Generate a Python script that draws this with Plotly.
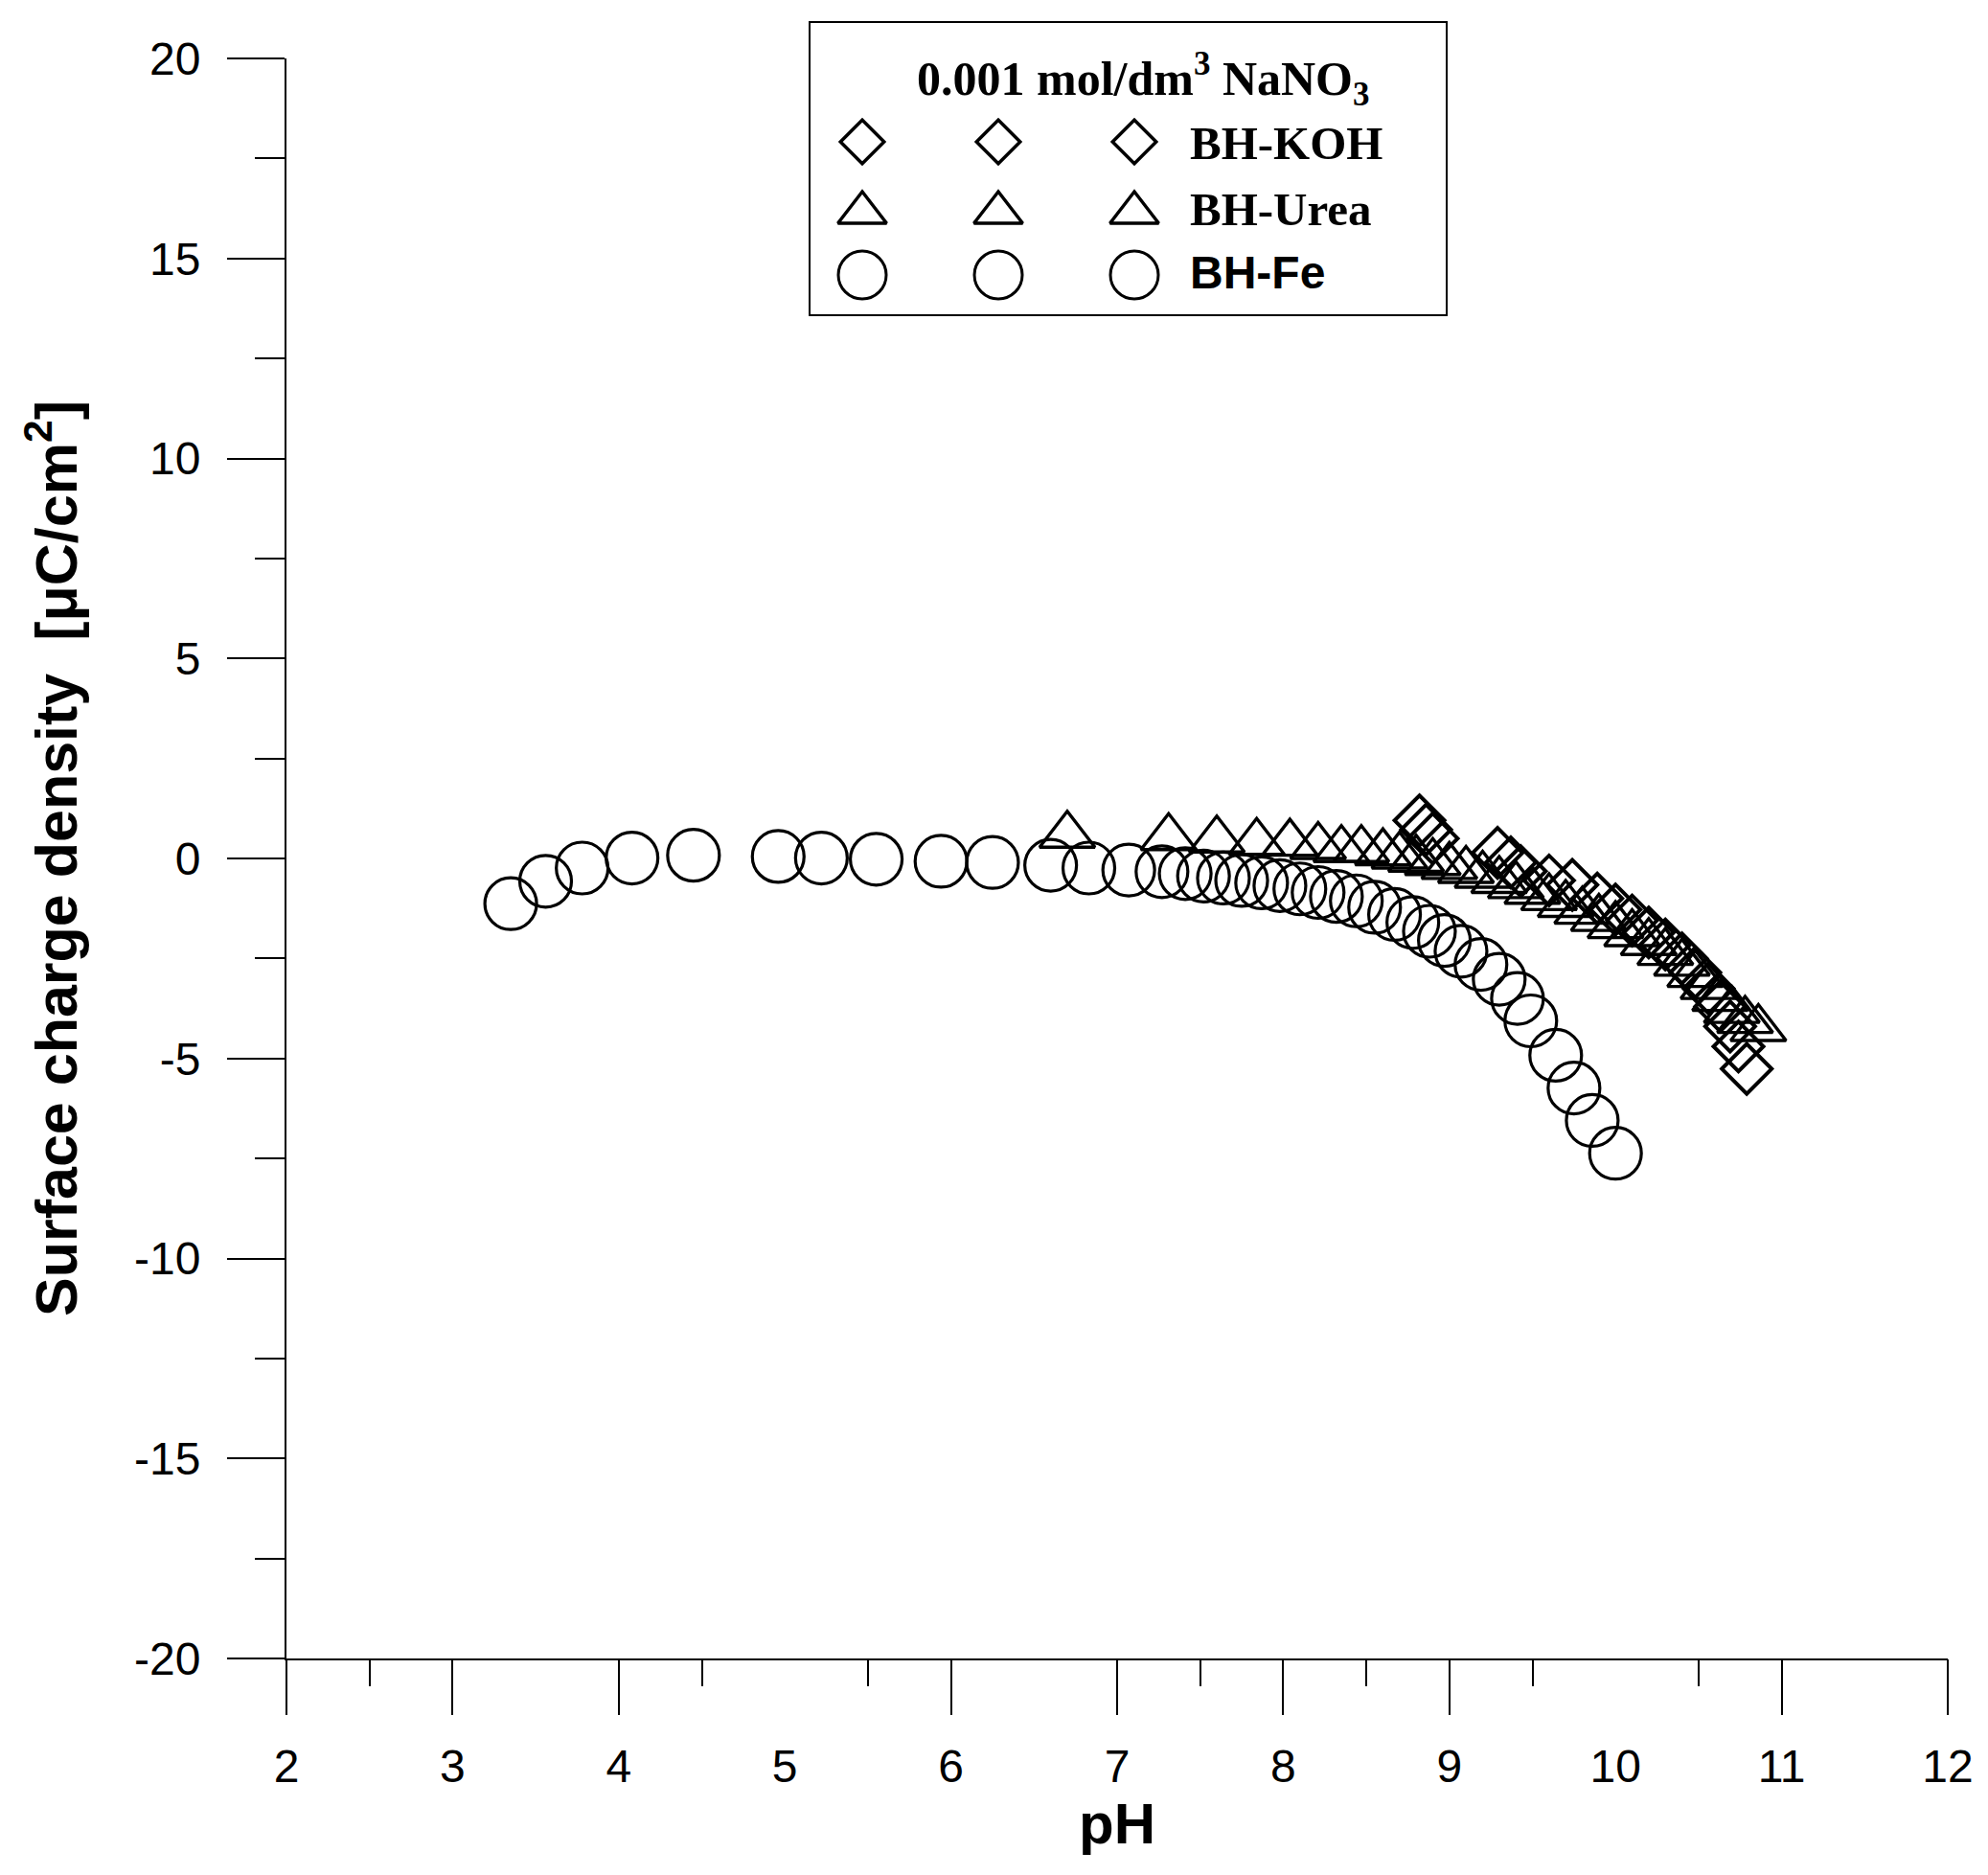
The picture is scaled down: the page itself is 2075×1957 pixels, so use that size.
import plotly.graph_objects as go

# ---------------- data ----------------
ph_fe = [3.35, 3.56, 3.78, 4.08, 4.45, 4.96, 5.22, 5.55, 5.94, 6.25, 6.60, 6.83, 7.07,
         7.27, 7.41, 7.52, 7.64, 7.75, 7.87, 7.98, 8.10, 8.21, 8.32, 8.44, 8.55, 8.67,
         8.78, 8.88, 8.97, 9.07, 9.19, 9.30, 9.41, 9.49, 9.64, 9.75, 9.86, 10.00]
sigma_fe = [-1.13, -0.57, -0.24, 0.01, 0.08, 0.05, 0.01, -0.02, -0.07, -0.10, -0.17, -0.24, -0.29,
            -0.33, -0.38, -0.44, -0.49, -0.55, -0.61, -0.68, -0.76, -0.85, -0.95, -1.06, -1.22, -1.40,
            -1.60, -1.82, -2.05, -2.32, -2.65, -3.02, -3.50, -4.06, -4.92, -5.74, -6.55, -7.37]

ph_urea = [6.70, 7.31, 7.60, 7.84, 8.04, 8.21, 8.35, 8.47, 8.60, 8.70, 8.80, 8.90, 9.00,
           9.10, 9.20, 9.30, 9.40, 9.50, 9.60, 9.70, 9.80, 9.90, 10.00, 10.10, 10.20, 10.30,
           10.40, 10.48, 10.56, 10.63, 10.70, 10.78, 10.86]
sigma_urea = [0.58, 0.52, 0.46, 0.40, 0.38, 0.30, 0.22, 0.22, 0.14, 0.06, -0.02, -0.10, -0.20,
              -0.30, -0.42, -0.55, -0.68, -0.82, -0.98, -1.15, -1.32, -1.50, -1.68, -1.88, -2.10, -2.35,
              -2.62, -2.90, -3.20, -3.50, -3.80, -4.05, -4.25]

ph_koh = [8.82, 8.86, 8.90, 9.29, 9.37, 9.43, 9.60, 9.74, 9.89, 10.00, 10.10, 10.20, 10.30,
          10.40, 10.48, 10.56, 10.63, 10.69, 10.74, 10.79]
sigma_koh = [0.95, 0.72, 0.50, 0.14, -0.10, -0.32, -0.55, -0.66, -1.00, -1.28, -1.55, -1.85, -2.15,
             -2.50, -2.85, -3.25, -3.70, -4.20, -4.70, -5.26]

x_tick_values = [2, 3, 4, 5, 6, 7, 8, 9, 10, 11, 12]
x_tick_labels = ["2", "3", "4", "5", "6", "7", "8", "9", "10", "11", "12"]
x_long_ticks = [2, 3, 4, 6, 7, 8, 9, 11, 12]
x_short_ticks = [2.5, 4.5, 5.5, 7.5, 8.5, 9.5, 10.5]
y_tick_values = [-20, -15, -10, -5, 0, 5, 10, 15, 20]
y_tick_labels = ["-20", "-15", "-10", "-5", "0", "5", "10", "15", "20"]

legend_names = ["BH-KOH", "BH-Urea", "BH-Fe"]
legend_title = "0.001 mol/dm<sup>3</sup> NaNO<sub>3</sub>"

# ---------------- layout geometry (pixels) ----------------
W, H = 2075, 1957
L, R, T, B = 299, 42, 61, 226
PX0, PX1 = L, W - R
PY0, PY1 = T, H - B


def px_x(p):
    return (p - PX0) / (PX1 - PX0)


def px_y(p):
    return (PY1 - p) / (PY1 - PY0)


SANS = "Liberation Sans, Arial, sans-serif"
SERIF = "Liberation Serif, Times New Roman, serif"

fig = go.Figure()

fig.add_trace(go.Scatter(
    x=ph_fe, y=sigma_fe, mode="markers", name="BH-Fe",
    marker=dict(symbol="circle-open", size=54, color="black", line=dict(width=3.2)),
    cliponaxis=False, showlegend=False))
fig.add_trace(go.Scatter(
    x=ph_urea, y=sigma_urea, mode="markers", name="BH-Urea",
    marker=dict(symbol="triangle-up-open", size=50, color="black", line=dict(width=3.4)),
    cliponaxis=False, showlegend=False))
fig.add_trace(go.Scatter(
    x=ph_koh, y=sigma_koh, mode="markers", name="BH-KOH",
    marker=dict(symbol="diamond-open", size=40, color="black", line=dict(width=4)),
    cliponaxis=False, showlegend=False))

# ---- invisible axis carrying long / short x ticks as in the reference ----
fig.add_trace(go.Scatter(x=[2, 12], y=[None, None], xaxis="x2", yaxis="y",
                         mode="markers", showlegend=False, hoverinfo="skip"))

# ---- legend symbols on a pixel-based overlay axis ----
legend_cols = [900, 1042, 1184]
legend_rows = [148, 222, 287]
legend_symbols = ["diamond-open", "triangle-up-open", "circle-open"]
legend_sizes = [35, 44, 50]
legend_widths = [3.5, 3.5, 3]
for sym, row, sz, lw in zip(legend_symbols, legend_rows, legend_sizes, legend_widths):
    fig.add_trace(go.Scatter(
        x=legend_cols, y=[row] * 3, xaxis="x3", yaxis="y3", mode="markers",
        marker=dict(symbol=sym, size=sz, color="black", line=dict(width=lw)),
        cliponaxis=False, showlegend=False, hoverinfo="skip"))

fig.update_layout(
    width=W, height=H,
    margin=dict(l=L, r=R, t=T, b=B, autoexpand=False),
    paper_bgcolor="white", plot_bgcolor="white",
    showlegend=False,
    font=dict(family=SANS, color="black"),
    xaxis=dict(
        range=[2, 12], tickmode="array", tickvals=x_tick_values, ticktext=x_tick_labels,
        ticks="outside", ticklen=58, tickwidth=2, tickcolor="rgba(0,0,0,0)",
        ticklabelstandoff=11,
        tickfont=dict(family=SANS, size=48, color="black"),
        showline=True, linecolor="black", linewidth=2, mirror=False,
        showgrid=False, zeroline=False,
        title=dict(text="<b>pH</b>", font=dict(family=SANS, size=60, color="black"), standoff=3),
    ),
    xaxis2=dict(
        range=[2, 12], overlaying="x", anchor="y", side="bottom",
        tickmode="array", tickvals=x_long_ticks, showticklabels=False,
        ticks="outside", ticklen=58, tickwidth=2, tickcolor="black",
        minor=dict(tickmode="array", tickvals=x_short_ticks, ticks="outside",
                   ticklen=28, tickwidth=2, tickcolor="black"),
        showline=False, showgrid=False, zeroline=False,
    ),
    yaxis=dict(
        range=[-20, 20], tickmode="array", tickvals=y_tick_values, ticktext=y_tick_labels,
        ticks="outside", ticklen=60, tickwidth=2, tickcolor="black",
        ticklabelstandoff=18,
        minor=dict(dtick=2.5, ticks="outside", ticklen=31, tickwidth=2, tickcolor="black"),
        tickfont=dict(family=SANS, size=48, color="black"),
        showline=True, linecolor="black", linewidth=2,
        showgrid=False, zeroline=False,
        title=dict(text="<b>Surface charge density  [μC/cm<sup>2</sup>]</b>",
                   font=dict(family=SANS, size=61, color="black"), standoff=40),
    ),
    xaxis3=dict(range=[PX0, PX1], overlaying="x", anchor="y3", visible=False, fixedrange=True),
    yaxis3=dict(range=[PY1, PY0], overlaying="y", anchor="x3", visible=False, fixedrange=True),
)

# legend box
fig.add_shape(type="rect", xref="paper", yref="paper",
              x0=px_x(845), x1=px_x(1510), y0=px_y(329), y1=px_y(23),
              line=dict(color="black", width=2), fillcolor="rgba(0,0,0,0)", layer="below")

fig.add_annotation(xref="paper", yref="paper", x=px_x(1193), y=px_y(82),
                   xanchor="center", yanchor="middle", showarrow=False,
                   text="<b>" + legend_title + "</b>",
                   font=dict(family=SERIF, size=50, color="black"))

legend_label_fonts = [SERIF, SERIF, SANS]
legend_label_sizes = [49, 49, 48]
legend_label_rows = [150, 218, 284]
for name, fam, sz, row in zip(legend_names, legend_label_fonts, legend_label_sizes, legend_label_rows):
    fig.add_annotation(xref="paper", yref="paper", x=px_x(1240), y=px_y(row),
                       xanchor="left", yanchor="middle", showarrow=False,
                       text="<b>" + name + "</b>",
                       font=dict(family=fam, size=sz, color="black"))

fig.write_html("out.html")
